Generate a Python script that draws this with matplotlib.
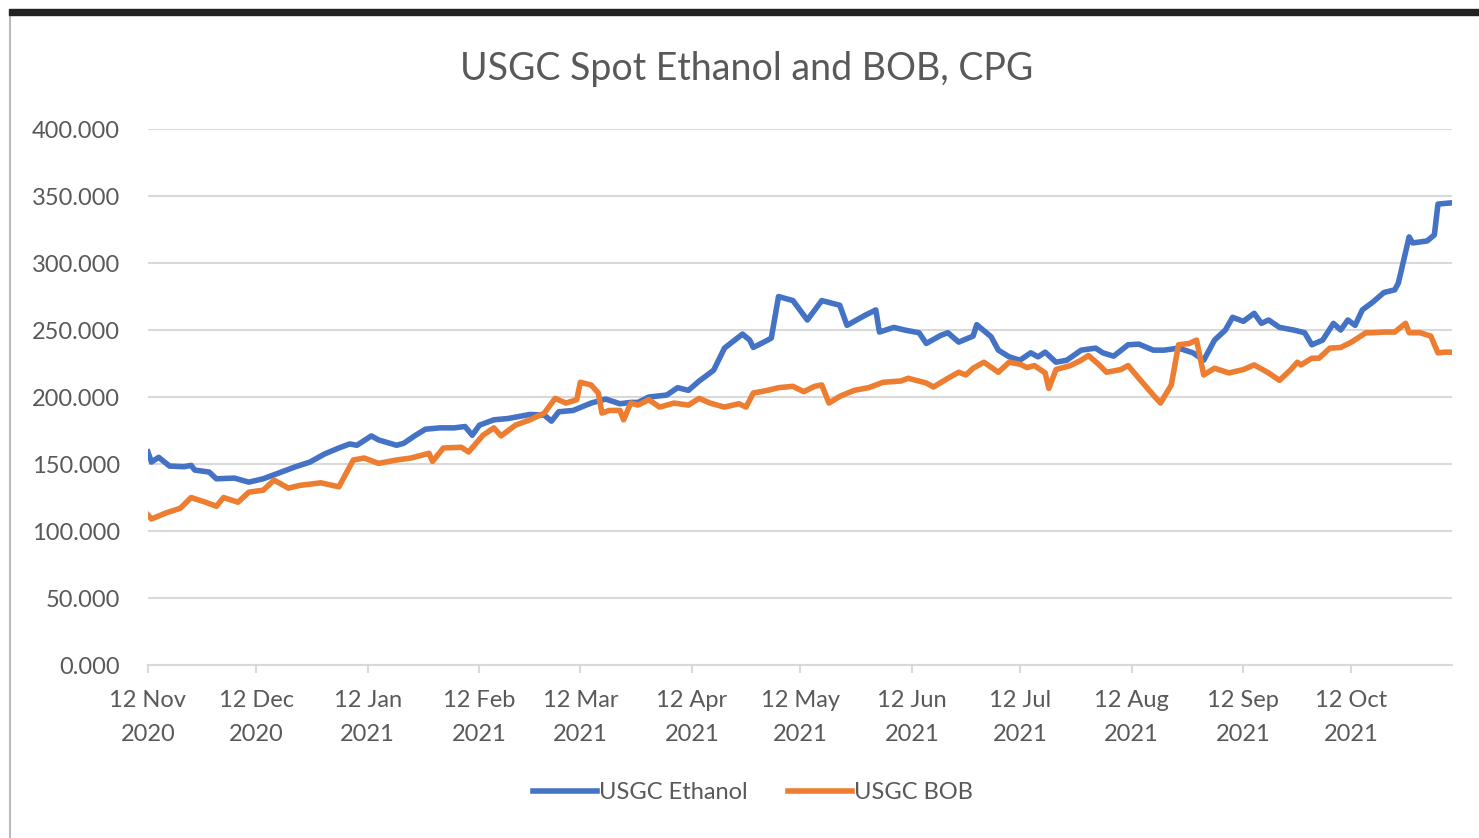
import pandas as pd
import matplotlib.pyplot as plt
from matplotlib.lines import Line2D
from matplotlib.patches import Rectangle

START = pd.Timestamp("2020-11-12")

# days after 12 Nov 2020, cents per gallon
eth_days = [0, 1, 3, 6, 10, 12, 13, 17, 19, 24, 26, 28, 32, 37, 41, 45, 49, 53, 56, 58,
            62, 64, 69, 71, 74, 77, 81, 85, 88, 90, 92, 96, 100, 106, 110, 112, 114, 118,
            123, 127, 131, 134, 136, 139, 144, 147, 150, 153, 157, 160, 165, 167, 168, 172,
            173, 175, 179, 183, 187, 192, 194, 199, 202, 203, 207, 210, 214, 216, 220, 222,
            225, 229, 230, 234, 236, 239, 242, 245, 247, 249, 252, 255, 259, 263, 265, 268,
            272, 275, 279, 282, 286, 290, 293, 296, 299, 301, 304, 307, 309, 311, 314, 318,
            321, 323, 326, 329, 331, 333, 335, 337, 340, 343, 346, 347, 350, 351, 355, 357,
            358, 362]
eth_vals = [159, 151.5, 155, 148.5, 148, 149, 145.5, 144, 139, 139.5, 138, 136.5, 139, 144,
            148, 151.5, 157.5, 162, 165, 164, 171, 168, 164, 165.5, 171, 176, 177, 177, 178,
            171.5, 179, 183, 184, 187, 186.5, 182, 189, 190, 195.5, 198.5, 195, 196, 196, 200,
            201.5, 207, 205, 212, 220, 236.5, 247, 242.5, 237, 242.5, 244, 275, 272, 257.5,
            272, 268.5, 253.5, 261, 265, 248.5, 252, 250, 248, 240, 246, 248, 241, 245.5, 254,
            245, 235, 230, 227.5, 233, 230, 233.5, 226, 227.5, 235, 236.5, 233, 230.5, 239,
            239.5, 235, 235, 236.5, 233, 227.5, 242.5, 250, 259.5, 256.5, 262.5, 255, 257.5,
            252, 250, 248, 239, 242.5, 255, 250, 257.5, 253.5, 265, 271, 278, 280, 285, 319.5,
            315, 316.5, 321, 344, 345]

bob_days = [0, 1, 5, 9, 12, 16, 19, 21, 25, 28, 32, 35, 39, 42, 48, 53, 57, 60, 64, 69,
            73, 78, 79, 82, 87, 89, 93, 96, 98, 102, 106, 110, 113, 116, 119, 120, 123, 125,
            126, 128, 131, 132, 134, 136, 139, 142, 146, 150, 153, 156, 160, 164, 166, 168,
            172, 175, 179, 182, 185, 187, 189, 192, 196, 200, 204, 209, 211, 216, 218, 222,
            225, 227, 229, 232, 236, 239, 242, 244, 246, 249, 250, 252, 256, 259, 261, 264,
            266, 270, 272, 275, 279, 281, 284, 286, 289, 291, 293, 296, 300, 304, 307, 311,
            314, 317, 319, 320, 323, 325, 328, 331, 334, 338, 340, 343, 346, 349, 350, 353,
            356, 358, 360, 362]
bob_vals = [112, 109, 113.5, 117, 125, 121.5, 118.5, 125, 121.5, 129, 130.5, 138, 132, 134,
            136, 133, 153, 154.5, 150.5, 153, 154.5, 158, 152, 162, 162.5, 159, 171.5, 177,
            171, 179, 183, 188, 199, 195.5, 198, 211, 209, 203, 188, 190, 190, 183, 195.5,
            194, 198, 192.5, 195.5, 194, 199, 195.5, 192.5, 195, 192.5, 203, 205, 207, 208,
            204, 208, 209, 195.5, 200.5, 205, 207, 211, 212, 214, 210.5, 207.5, 214, 218.5,
            216.5, 221.5, 226, 218.5, 226, 224.5, 222, 223.5, 218, 206.5, 220.5, 223.5, 227.5,
            231, 224, 218.5, 220.5, 223.5, 214, 201.5, 195.5, 209, 239, 240, 242.5, 216.5,
            221.5, 218, 220.5, 224, 218, 212.5, 220, 226, 224, 229, 229, 236.5, 237, 241, 248,
            248, 248.5, 248.5, 255, 248, 248, 245.5, 233, 233.5, 233.5]

tick_dates = pd.to_datetime(["2020-11-12", "2020-12-12", "2021-01-12", "2021-02-12",
                             "2021-03-12", "2021-04-12", "2021-05-12", "2021-06-12",
                             "2021-07-12", "2021-08-12", "2021-09-12", "2021-10-12"])
tick_labels = [d.strftime("%d %b\n%Y") for d in tick_dates]

BLUE = "#4472C4"
ORANGE = "#ED7D31"
TEXT = "#595959"
GRID = "#D9D9D9"

plt.rcParams["font.family"] = ["Lato", "DejaVu Sans"]

fig = plt.figure(figsize=(14.79, 8.38), dpi=100)
ax = fig.add_axes([0.1, 0.2064, 0.882, 0.6396])

eth_x = START + pd.to_timedelta(eth_days, unit="D")
bob_x = START + pd.to_timedelta(bob_days, unit="D")
ax.plot(eth_x, eth_vals, color=BLUE, lw=4.0, solid_joinstyle="round", zorder=3)
ax.plot(bob_x, bob_vals, color=ORANGE, lw=4.0, solid_joinstyle="round", zorder=3)

ax.set_xlim(START, START + pd.Timedelta(days=362))
ax.set_ylim(0, 400)
ax.set_yticks(range(0, 401, 50))
ax.yaxis.set_major_formatter(plt.FuncFormatter(lambda v, _: f"{v:.3f}"))
ax.set_xticks(tick_dates)
ax.set_xticklabels(tick_labels, linespacing=1.75)
ax.grid(axis="y", color=GRID, lw=1.5)
ax.set_axisbelow(True)

for s in ["top", "right", "left"]:
    ax.spines[s].set_visible(False)
ax.spines["bottom"].set_color(GRID)
ax.spines["bottom"].set_linewidth(1.5)
ax.tick_params(axis="y", length=0, pad=20, labelsize=17, labelcolor=TEXT)
ax.tick_params(axis="x", length=6, width=1.5, color=GRID, pad=12, labelsize=17,
               labelcolor=TEXT)

fig.text(0.505, 0.918, "USGC Spot Ethanol and BOB, CPG", ha="center", va="center",
         fontsize=27, color=TEXT)

handles = [Line2D([], [], color=BLUE, lw=4.0), Line2D([], [], color=ORANGE, lw=4.0)]
fig.legend(handles, ["USGC Ethanol", "USGC BOB"], loc="center", bbox_to_anchor=(0.509, 0.054),
           ncol=2, frameon=False, fontsize=17, labelcolor=TEXT, handlelength=2.7,
           handletextpad=0.1, columnspacing=1.7)

# screenshot frame
fig.patches.append(Rectangle((0.006, 0.982), 0.994, 0.007, transform=fig.transFigure,
                             color="#222222", zorder=5))
fig.add_artist(Line2D([0.0068, 0.0068], [0.0, 0.982], transform=fig.transFigure,
                      color="#BBBBBB", lw=1.5))

fig.savefig("out.png", dpi=100)
